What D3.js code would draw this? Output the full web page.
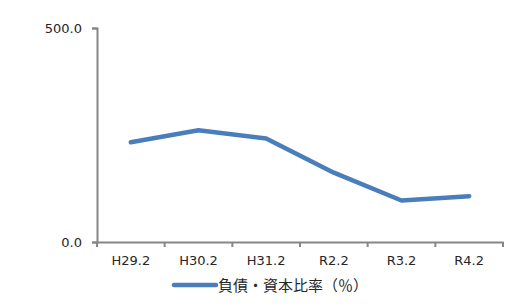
<!DOCTYPE html>
<html>
<head>
<meta charset="utf-8">
<script src="https://cdn.jsdelivr.net/npm/d3@7"></script>
<style>
  body { margin: 0; background: #fff; }
  svg { display: block; font-family: "DejaVu Sans", "Noto Sans CJK JP", sans-serif; }
</style>
</head>
<body>
<svg id="svg" width="528" height="306"></svg>
<script>
// chart data
var categories = ["H29.2", "H30.2", "H31.2", "R2.2", "R3.2", "R4.2"];
var ratios = [233, 261, 242, 162, 97, 107];
var yTicks = [0, 500];
var seriesName = "負債・資本比率（％）";

var svg = d3.select('#svg');
var padding = {top: 28, right: 25, bottom: 64, left: 97};
var chartArea = {
    width: 528 - padding.left - padding.right,
    height: 306 - padding.top - padding.bottom
};

var xScale = d3.scaleBand()
    .domain(categories)
    .range([0, chartArea.width]);

var yScale = d3.scaleLinear()
    .domain([0, 500])
    .range([chartArea.height, 0]);

var axisColor = "#868686";
var textColor = "#262626";

// y axis
var yAxis = svg.append("g")
    .attr('transform', 'translate(' + padding.left + ',' + padding.top + ')')
    .call(d3.axisLeft(yScale).tickValues(yTicks).tickFormat(d3.format(".1f")).tickSize(5).tickPadding(10));
yAxis.attr("font-size", null).attr("font-family", null);
yAxis.select(".domain").attr("stroke", axisColor).attr("stroke-width", 2);
yAxis.selectAll(".tick line").attr("stroke", axisColor).attr("stroke-width", 2);
yAxis.selectAll(".tick text").attr("fill", textColor).style("font-size", "13px");

// x axis with ticks at category boundaries
var xAxis = svg.append("g")
    .attr('transform', 'translate(' + padding.left + ',' + (padding.top + chartArea.height) + ')')
    .call(d3.axisBottom(xScale).tickSize(0).tickPadding(14));
xAxis.attr("font-size", null).attr("font-family", null);
xAxis.select(".domain").attr("stroke", axisColor).attr("stroke-width", 2);
xAxis.selectAll(".tick text").attr("fill", textColor).style("font-size", "13px");
var bounds = categories.map(function(c){ return xScale(c); }).concat([chartArea.width]);
xAxis.selectAll(".bound").data(bounds).enter()
    .append("line")
    .attr("x1", function(d){ return d; })
    .attr("x2", function(d){ return d; })
    .attr("y1", 0)
    .attr("y2", 5)
    .attr("stroke", axisColor)
    .attr("stroke-width", 2);

// series line
var lineGrp = svg.append("g")
    .attr('transform', 'translate(' + padding.left + ',' + padding.top + ')');
var line = d3.line()
    .x(function(d, i){ return xScale(categories[i]) + xScale.bandwidth() / 2; })
    .y(function(d){ return yScale(d); });
lineGrp.append("path")
    .datum(ratios)
    .attr("d", line)
    .attr("fill", "none")
    .attr("stroke", "#4a7ebb")
    .attr("stroke-width", 4.5)
    .attr("stroke-linejoin", "round")
    .attr("stroke-linecap", "round");

// legend
var legend = svg.append("g").attr("transform", "translate(174,285)");
legend.append("line")
    .attr("x1", 0).attr("x2", 42)
    .attr("y1", 0).attr("y2", 0)
    .attr("stroke", "#4a7ebb")
    .attr("stroke-width", 4.5)
    .attr("stroke-linecap", "round");
legend.append("text")
    .attr("x", 44)
    .attr("y", 5.5)
    .style("font-size", "15px")
    .style("font-family", "'Noto Sans CJK JP'")
    .attr("fill", textColor)
    .text(seriesName);
</script>
</body>
</html>
